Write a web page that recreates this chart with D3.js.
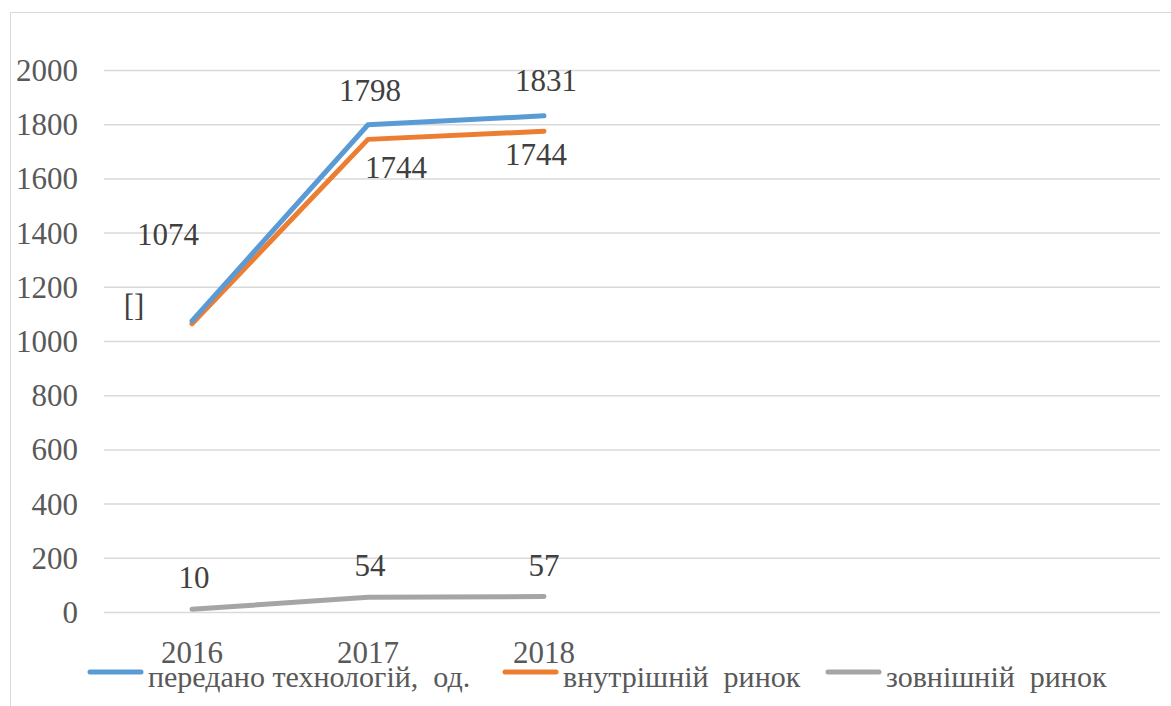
<!DOCTYPE html>
<html>
<head>
<meta charset="utf-8">
<script src="https://cdn.jsdelivr.net/npm/d3@7"></script>
<style>
  html, body { margin: 0; padding: 0; background: #fff; }
  svg { display: block; }
</style>
</head>
<body>
<svg id="chart" width="1171" height="706"></svg>
<script>
// ---- data ----
const categories = ["2016", "2017", "2018", "", "", ""];
const seriesNames = ["передано технологій,  од.", "внутрішній  ринок", "зовнішній  ринок"];
const transferred = [1074, 1798, 1831];
const domestic = [1064, 1744, 1774];
const foreign = [10, 54, 57];
const transferredLabels = ["1074", "1798", "1831"];
const domesticLabels = ["[]", "1744", "1744"];
const foreignLabels = ["10", "54", "57"];
const yTicks = [0, 200, 400, 600, 800, 1000, 1200, 1400, 1600, 1800, 2000];

// ---- layout / style ----
const colors = ["#5B9BD5", "#ED7D31", "#A5A5A5"];
const labelOffsets = [
  [[-24, -76], [2, -24], [2, -25]],
  [[-58, -8], [28, 39], [-8, 34]],
  [[2, -21], [2, -21], [0, -21]]
];
const FONT = "Liberation Serif, Tinos, Noto Serif, DejaVu Serif, FreeSerif, Times New Roman, Times, serif";

const svg = d3.select("#chart").attr("font-family", FONT);

// chart border
svg.append("path")
  .attr("d", "M10.5,706 L10.5,12.5 L1171,12.5")
  .attr("fill", "none").attr("stroke", "#d9d9d9").attr("stroke-width", 1);

const plot = { left: 104, right: 1160, top: 70, bottom: 612 };

const x = d3.scaleBand().domain(d3.range(categories.length))
  .range([plot.left, plot.right]).paddingInner(0).paddingOuter(0);
const y = d3.scaleLinear().domain([0, 2000]).range([plot.bottom, plot.top]);
const cx = i => x(i) + x.bandwidth() / 2;

// gridlines
svg.append("g")
  .attr("transform", `translate(${plot.left},0)`)
  .call(d3.axisLeft(y).tickValues(yTicks).tickSize(-(plot.right - plot.left)).tickFormat(""))
  .call(g => g.select(".domain").remove())
  .call(g => g.selectAll("line").attr("stroke", "#d9d9d9").attr("stroke-width", 1.5));

// y axis labels
svg.append("g")
  .attr("transform", `translate(78,0)`)
  .call(d3.axisLeft(y).tickValues(yTicks).tickSize(0).tickPadding(0).tickFormat(d3.format("d")))
  .attr("font-family", FONT)
  .call(g => g.select(".domain").remove())
  .call(g => g.selectAll("text")
    .attr("font-size", 31).attr("fill", "#595959").attr("dy", "0.34em"));

// x axis labels
svg.append("g")
  .attr("transform", `translate(0,${plot.bottom})`)
  .call(d3.axisBottom(x).tickSize(0).tickFormat(i => categories[i]))
  .attr("font-family", FONT)
  .call(g => g.select(".domain").remove())
  .call(g => g.selectAll("text")
    .attr("font-size", 31).attr("fill", "#595959")
    .attr("y", 51).attr("dy", 0));

const allSeries = [transferred, domestic, foreign];
const allLabels = [transferredLabels, domesticLabels, foreignLabels];

const line = d3.line().x((d, i) => cx(i)).y(d => y(d));

// draw order: gray, orange, blue (blue on top)
[2, 1, 0].forEach(s => {
  svg.append("path")
    .datum(allSeries[s])
    .attr("d", line)
    .attr("fill", "none")
    .attr("stroke", colors[s])
    .attr("stroke-width", 5)
    .attr("stroke-linecap", "round")
    .attr("stroke-linejoin", "round");
});

// data labels
allSeries.forEach((vals, s) => {
  svg.append("g").selectAll("text")
    .data(vals)
    .join("text")
    .attr("x", (d, i) => cx(i) + labelOffsets[s][i][0])
    .attr("y", (d, i) => y(d) + labelOffsets[s][i][1])
    .attr("text-anchor", "middle")
    .attr("font-size", 31)
    .attr("fill", "#404040")
    .text((d, i) => allLabels[s][i]);
});

// legend
const legendItems = [
  { x: 88 }, { x: 503 }, { x: 826 }
];
const lg = svg.append("g");
seriesNames.forEach((name, s) => {
  const lx = legendItems[s].x;
  lg.append("line")
    .attr("x1", lx + 2).attr("x2", lx + 53)
    .attr("y1", 672).attr("y2", 672)
    .attr("stroke", colors[s]).attr("stroke-width", 5)
    .attr("stroke-linecap", "round");
  lg.append("text")
    .attr("x", lx + 60).attr("y", 687)
    .attr("font-size", 30).attr("fill", "#595959")
    .style("white-space", "pre")
    .text(name);
});
</script>
</body>
</html>
